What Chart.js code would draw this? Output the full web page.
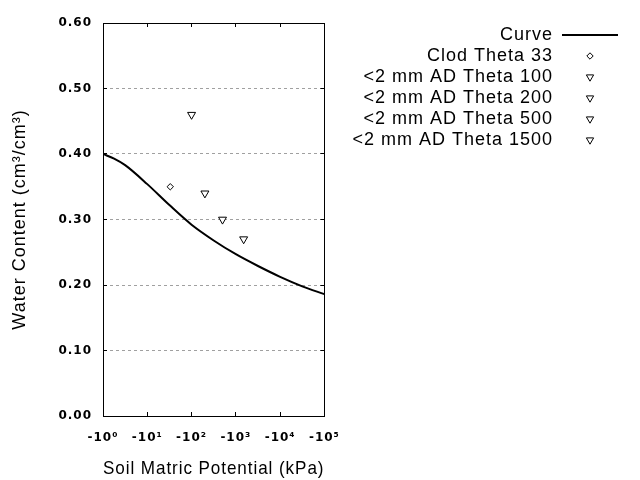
<!DOCTYPE html>
<html>
<head>
<meta charset="utf-8">
<script src="https://cdn.jsdelivr.net/npm/chart.js@4.4.1/dist/chart.umd.min.js"></script>
<style>
  html, body { margin: 0; padding: 0; background: #fff; }
  #wrap { width: 640px; height: 480px; }
</style>
</head>
<body>
<div id="wrap"><canvas id="myChart" width="640" height="480"></canvas></div>
<script>
// soil matric potential, kPa (shown negative on the axis)
var curveKpa = [1, 1.78, 3.16, 10, 31.6, 100, 316, 1000, 3162, 10000, 31623, 100000];
var curveTheta = [0.400, 0.393, 0.383, 0.354, 0.322, 0.292, 0.268, 0.247, 0.229, 0.2125, 0.198, 0.186];

var pointNames = ['Clod Theta 33', '<2 mm AD Theta 100', '<2 mm AD Theta 200', '<2 mm AD Theta 500', '<2 mm AD Theta 1500'];
var pointKpa = [33, 100, 200, 500, 1500];
var pointTheta = [0.35, 0.46, 0.34, 0.30, 0.27];

var xTicks = [1, 10, 100, 1000, 10000, 100000];
var xTickLabels = ['-10\u2070', '-10\u00b9', '-10\u00b2', '-10\u00b3', '-10\u2074', '-10\u2075'];
var yTicks = [0, 0.1, 0.2, 0.3, 0.4, 0.5, 0.6];

var fam = "'Liberation Sans', Arial, sans-serif";
var tickFont = { family: "'DejaVu Sans', sans-serif", size: 12, weight: 'bold' };

function decades(scale) {
    scale.ticks = xTicks.map(function (v) { return { value: v }; });
}
function thetaTicks(scale) {
    scale.ticks = yTicks.map(function (v) { return { value: v }; });
}

// small legend symbol drawn with chart.js' own point helper
function markerImage(style, radius, rotation) {
    var c = document.createElement('canvas');
    c.width = 14;
    c.height = 14;
    var g = c.getContext('2d');
    g.strokeStyle = '#000';
    g.fillStyle = '#fff';
    g.lineWidth = 1;
    Chart.helpers.drawPoint(g, { pointStyle: style, radius: radius, rotation: rotation, borderWidth: 1 }, 7, 7);
    return c;
}

var datasets = [{
    label: 'Curve',
    data: curveKpa.map(function (x, i) { return { x: x, y: curveTheta[i] }; }),
    showLine: true,
    borderColor: '#000',
    backgroundColor: '#000',
    borderWidth: 2,
    pointRadius: 0,
    pointHoverRadius: 0,
    pointStyle: 'line',
    cubicInterpolationMode: 'monotone'
}];

for (var i = 0; i < pointNames.length; i++) {
    var clod = i === 0;
    datasets.push({
        label: pointNames[i],
        data: [{ x: pointKpa[i], y: pointTheta[i] }],
        showLine: false,
        borderColor: '#000',
        backgroundColor: '#fff',
        borderWidth: 1,
        pointStyle: clod ? 'rectRot' : 'triangle',
        rotation: clod ? 0 : 180,
        pointRadius: clod ? 3.2 : 4.6,
        legendStyle: clod ? markerImage('rectRot', 3.2, 0) : markerImage('triangle', 4.2, 180)
    });
}

var spacing = {
    id: 'spacing',
    beforeLayout: function (chart) { chart.ctx.letterSpacing = '1px'; }
};

var ctx = document.getElementById('myChart').getContext('2d');

var chart = new Chart(ctx, {
    type: 'scatter',
    data: { datasets: datasets },
    plugins: [spacing],
    options: {
        responsive: false,
        animation: false,
        layout: { padding: { left: 0, right: 19, top: 0, bottom: 0 } },
        plugins: {
            tooltip: { enabled: false },
            legend: {
                position: 'right',
                align: 'start',
                fullSize: false,
                rtl: true,
                textDirection: 'ltr',
                maxWidth: 400,
                labels: {
                    usePointStyle: true,
                    pointStyleWidth: 56,
                    boxHeight: 6,
                    padding: 3,
                    color: '#000',
                    font: { family: fam, size: 18 },
                    generateLabels: function (chart) {
                        var items = Chart.defaults.plugins.legend.labels.generateLabels(chart);
                        items.forEach(function (it) {
                            var ds = chart.data.datasets[it.datasetIndex];
                            if (ds.legendStyle) {
                                it.pointStyle = ds.legendStyle;
                                it.rotation = 0;
                            }
                        });
                        return items;
                    }
                }
            }
        },
        scales: {
            x: {
                type: 'logarithmic',
                position: 'bottom',
                min: 1,
                max: 100000,
                afterBuildTicks: decades,
                afterFit: function (s) { s.height = 64; },
                ticks: {
                    color: '#000',
                    padding: 19,
                    maxRotation: 0,
                    autoSkip: false,
                    font: tickFont,
                    callback: function (v) { return xTickLabels[xTicks.indexOf(v)]; }
                },
                grid: { drawOnChartArea: false, tickLength: -4, tickColor: '#000' },
                border: { color: '#000', width: 1 },
                title: {
                    display: true,
                    text: 'Soil Matric Potential (kPa)',
                    color: '#000',
                    font: { family: fam, size: 18.5 },
                    padding: { top: 0, bottom: 0 }
                }
            },
            x2: {
                type: 'logarithmic',
                position: 'top',
                min: 1,
                max: 100000,
                afterBuildTicks: decades,
                afterFit: function (s) { s.height = 23; },
                ticks: { display: false },
                grid: { drawOnChartArea: false, tickLength: -4, tickColor: '#000' },
                border: { color: '#000', width: 1 }
            },
            y: {
                min: 0,
                max: 0.6,
                afterBuildTicks: thetaTicks,
                afterFit: function (s) { s.width = 103; },
                ticks: {
                    color: '#000',
                    padding: 15,
                    font: tickFont,
                    callback: function (v) { return v.toFixed(2); }
                },
                grid: { color: '#a0a0a0', lineWidth: 1, tickLength: -4, tickColor: '#000', tickBorderDash: [] },
                border: { color: '#000', width: 1, dash: [3, 3] },
                title: {
                    display: true,
                    text: 'Water Content (cm\u00b3/cm\u00b3)',
                    color: '#000',
                    font: { family: fam, size: 18 },
                    padding: { top: 9, bottom: 0 }
                }
            },
            y2: {
                position: 'right',
                min: 0,
                max: 0.6,
                afterBuildTicks: thetaTicks,
                afterFit: function (s) { s.width = 18; },
                ticks: { display: false },
                grid: { drawOnChartArea: false, tickLength: -4, tickColor: '#000' },
                border: { color: '#000', width: 1 }
            }
        }
    }
});
</script>
</body>
</html>
